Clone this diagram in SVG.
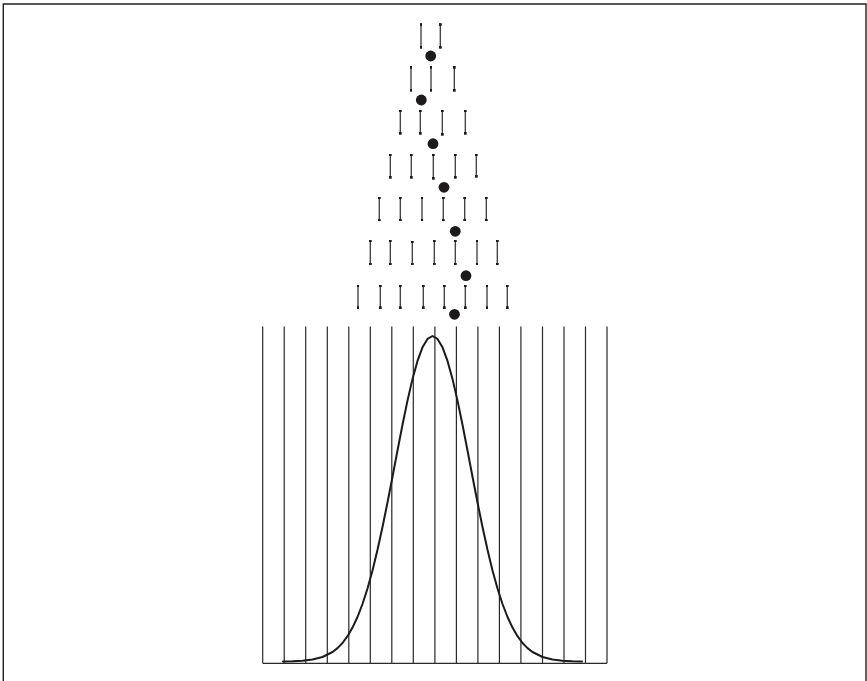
<svg xmlns="http://www.w3.org/2000/svg" width="867" height="681" viewBox="0 0 867 681">
<style>
.frame{fill:none;stroke:#231f20;stroke-width:1.4}
.peg{stroke:#3a3a3a;stroke-width:1.3;marker-start:url(#cap);marker-end:url(#cap)}
.ball{fill:#1c1a1b}
.bin{stroke:#2a2a2a;stroke-width:1.2;fill:none}
.curve{fill:none;stroke:#1c1a1b;stroke-width:2;stroke-linejoin:round;stroke-linecap:round}
</style>
<defs>
<marker id="cap" viewBox="0 0 2 2" refX="1" refY="1" markerUnits="userSpaceOnUse" markerWidth="2.8" markerHeight="2.8" orient="0">
<rect x="0" y="0" width="2" height="2" fill="#1c1a1b"/>
</marker>
</defs>
<rect width="867" height="681" fill="#fff"/>
<path id="frame" class="frame" d="M3.3,681 V4 H866 V681"/>
<g id="pegs">
<g id="row1">
<line class="peg" x1="421" y1="24.5" x2="421" y2="47.3"/>
<line class="peg" x1="440.3" y1="24.5" x2="440.3" y2="47.3"/>
</g>
<g id="row2">
<line class="peg" x1="411" y1="67.3" x2="411" y2="90.3"/>
<line class="peg" x1="431" y1="67.3" x2="431" y2="90.3"/>
<line class="peg" x1="454.3" y1="67.3" x2="454.3" y2="90.3"/>
</g>
<g id="row3">
<line class="peg" x1="400.3" y1="111" x2="400.3" y2="133.3"/>
<line class="peg" x1="420.3" y1="111" x2="420.3" y2="133.3"/>
<line class="peg" x1="442.3" y1="111" x2="442.3" y2="134.3"/>
<line class="peg" x1="465.3" y1="111" x2="465.3" y2="133.3"/>
</g>
<g id="row4">
<line class="peg" x1="390.3" y1="155" x2="390.3" y2="177.3"/>
<line class="peg" x1="411.3" y1="155" x2="411.3" y2="177.3"/>
<line class="peg" x1="433.3" y1="155" x2="433.3" y2="178.3"/>
<line class="peg" x1="455.3" y1="155" x2="455.3" y2="177.3"/>
<line class="peg" x1="476.3" y1="155" x2="476.3" y2="176.3"/>
</g>
<g id="row5">
<line class="peg" x1="379.3" y1="198" x2="379.3" y2="220"/>
<line class="peg" x1="400.3" y1="198" x2="400.3" y2="220"/>
<line class="peg" x1="422" y1="198" x2="422" y2="220"/>
<line class="peg" x1="443.3" y1="198" x2="443.3" y2="220"/>
<line class="peg" x1="464.7" y1="198" x2="464.7" y2="220"/>
<line class="peg" x1="486.3" y1="198" x2="486.3" y2="220"/>
</g>
<g id="row6">
<line class="peg" x1="370.3" y1="241" x2="370.3" y2="264"/>
<line class="peg" x1="390.3" y1="241" x2="390.3" y2="264"/>
<line class="peg" x1="412.3" y1="242" x2="412.3" y2="264"/>
<line class="peg" x1="434.3" y1="241" x2="434.3" y2="264"/>
<line class="peg" x1="455.3" y1="241" x2="455.3" y2="264"/>
<line class="peg" x1="477" y1="241" x2="477" y2="264"/>
<line class="peg" x1="497.3" y1="241" x2="497.3" y2="264"/>
</g>
<g id="row7">
<line class="peg" x1="358" y1="286" x2="358" y2="307.7"/>
<line class="peg" x1="380.3" y1="286" x2="380.3" y2="307.7"/>
<line class="peg" x1="400.3" y1="286" x2="400.3" y2="307.7"/>
<line class="peg" x1="423.3" y1="286" x2="423.3" y2="307.7"/>
<line class="peg" x1="444.3" y1="286" x2="444.3" y2="307.7"/>
<line class="peg" x1="465.3" y1="286" x2="465.3" y2="307.7"/>
<line class="peg" x1="487" y1="286" x2="487" y2="307.7"/>
<line class="peg" x1="507.3" y1="286" x2="507.3" y2="307.7"/>
</g>
</g>
<g id="balls">
<circle class="ball" cx="430.7" cy="56" r="5.4"/>
<circle class="ball" cx="421.3" cy="100" r="5.4"/>
<circle class="ball" cx="433" cy="143.7" r="5.4"/>
<circle class="ball" cx="444" cy="187.3" r="5.4"/>
<circle class="ball" cx="455.3" cy="231.3" r="5.4"/>
<circle class="ball" cx="466" cy="275.7" r="5.4"/>
<circle class="ball" cx="454.5" cy="314.3" r="5.4"/>
</g>
<g id="bins">
<path class="bin" d="M262.7,663.3 H607 M262.7,326.5 V663.3 M284.2,326.5 V663.3 M305.7,326.5 V663.3 M327.3,326.5 V663.3 M348.8,326.5 V663.3 M370.3,326.5 V663.3 M391.8,326.5 V663.3 M413.3,326.5 V663.3 M434.9,326.5 V663.3 M456.4,326.5 V663.3 M477.9,326.5 V663.3 M499.4,326.5 V663.3 M520.9,326.5 V663.3 M542.5,326.5 V663.3 M564,326.5 V663.3 M585.5,326.5 V663.3 M607,326.5 V663.3"/>
</g>
<g id="curve">
<polyline class="curve" points="283,661.4 292.5,661.2 302.5,660.7 312.5,659.5 322.5,657 332.5,652 337.5,648.1 342.5,643 347.5,636.2 352.5,627.6 357.5,617 362.5,604 367.5,588.5 372.5,570.4 377.5,549.8 382.5,527 387.5,502.5 392.5,476.7 397.5,450.5 402.5,424.7 407.5,400.6 412.5,378.9 417.5,360.9 422.5,347.3 427.5,338.9 432.5,336 437.5,338.9 442.5,347.3 447.5,360.9 452.5,378.9 457.5,400.6 462.5,424.7 467.5,450.5 472.5,476.7 477.5,502.5 482.5,527 487.5,549.8 492.5,570.4 497.5,588.5 502.5,604 507.5,617 512.5,627.6 517.5,636.2 522.5,643 527.5,648.1 532.5,652 542.5,657 552.5,659.5 562.5,660.7 572.5,661.2 582,661.4"/>
</g>
</svg>
